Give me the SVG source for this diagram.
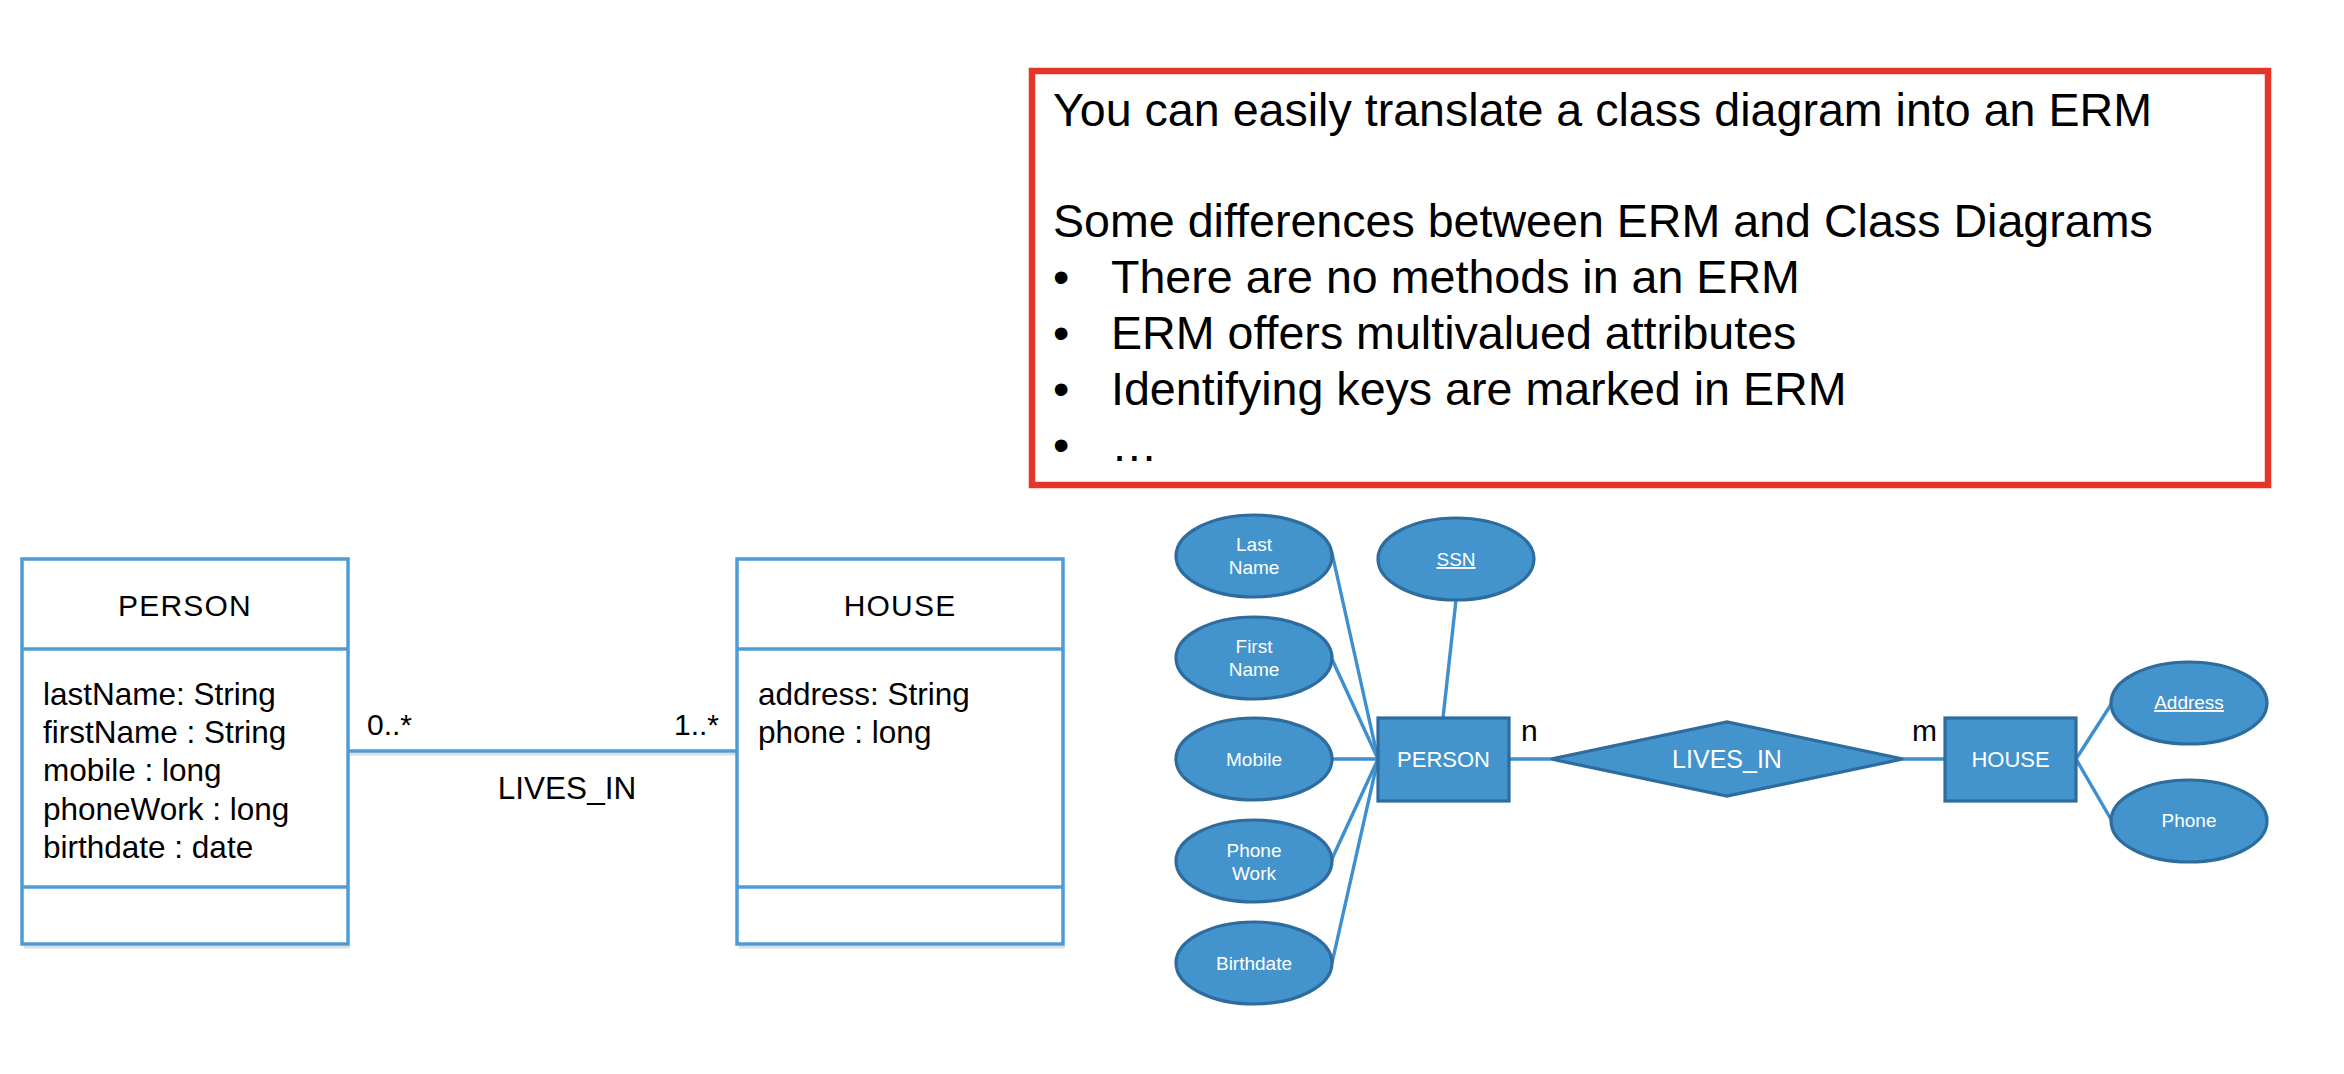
<svg xmlns="http://www.w3.org/2000/svg" width="2344" height="1074" viewBox="0 0 2344 1074">
<style>
text{font-family:"Liberation Sans",Arial,Helvetica,sans-serif;}
.cls{fill:#ffffff;stroke:#4e9bd6;stroke-width:3.5;}
.shadow{fill:none;stroke:#c9c9c9;stroke-width:3;opacity:0.6;}
.ct{font-size:31.5px;fill:#000;}
.ch{font-size:30px;fill:#000;letter-spacing:1.2px;text-anchor:middle;}
.assoc{stroke:#4e9bd6;stroke-width:3.5;fill:none;}
.note{fill:#ffffff;stroke:#e5352a;stroke-width:6.5;}
.nt{font-size:46.6px;fill:#000;}
.ent{fill:#4393cd;stroke:#2e6c9e;stroke-width:3.2;}
.et{fill:#ffffff;font-size:19px;text-anchor:middle;}
.eh{fill:#ffffff;font-size:22px;text-anchor:middle;}
.rl{fill:#ffffff;font-size:25px;text-anchor:middle;}
.link{stroke:#3d8fcf;stroke-width:3.4;fill:none;}
.card{font-size:30px;fill:#000;}
</style>

<g id="note">
<rect class="note" x="1032" y="71" width="1236" height="414"/>
<text class="nt" x="1053" y="126">You can easily translate a class diagram into an ERM</text>
<text class="nt" x="1053" y="237">Some differences between ERM and Class Diagrams</text>
<text class="nt" x="1053" y="293">•</text><text class="nt" x="1111" y="293">There are no methods in an ERM</text>
<text class="nt" x="1053" y="349">•</text><text class="nt" x="1111" y="349">ERM offers multivalued attributes</text>
<text class="nt" x="1053" y="405">•</text><text class="nt" x="1111" y="405">Identifying keys are marked in ERM</text>
<text class="nt" x="1053" y="461">•</text><text class="nt" x="1111" y="461">…</text>
</g>

<g id="class-connectors">
<line class="shadow" x1="350" y1="754" x2="737" y2="754"/>
<line class="assoc" x1="348" y1="751" x2="737" y2="751"/>
<text class="card" x="367" y="735">0..*</text>
<text class="card" x="719" y="735" text-anchor="end">1..*</text>
<text class="ct" x="567" y="799" text-anchor="middle">LIVES_IN</text>
</g>

<g id="class-person">
<path class="shadow" d="M24 947 H350 M24 652 H350 M24 890 H350"/>
<rect class="cls" x="22" y="559" width="326" height="385"/>
<line class="cls" x1="22" y1="649" x2="348" y2="649"/>
<line class="cls" x1="22" y1="887" x2="348" y2="887"/>
<text class="ch" x="185" y="616">PERSON</text>
<text class="ct" x="43" y="705">lastName: String</text>
<text class="ct" x="43" y="743">firstName : String</text>
<text class="ct" x="43" y="781">mobile : long</text>
<text class="ct" x="43" y="820">phoneWork : long</text>
<text class="ct" x="43" y="858">birthdate : date</text>
</g>

<g id="class-house">
<path class="shadow" d="M739 947 H1065 M739 652 H1065 M739 890 H1065"/>
<rect class="cls" x="737" y="559" width="326" height="385"/>
<line class="cls" x1="737" y1="649" x2="1063" y2="649"/>
<line class="cls" x1="737" y1="887" x2="1063" y2="887"/>
<text class="ch" x="900" y="616">HOUSE</text>
<text class="ct" x="758" y="705">address: String</text>
<text class="ct" x="758" y="743">phone : long</text>
</g>

<g id="erd-connectors">
<line class="link" x1="1332" y1="553" x2="1378" y2="759"/>
<line class="link" x1="1331" y1="657" x2="1378" y2="759"/>
<line class="link" x1="1332" y1="759" x2="1378" y2="759"/>
<line class="link" x1="1331" y1="861" x2="1378" y2="759"/>
<line class="link" x1="1332" y1="963" x2="1378" y2="759"/>
<line class="link" x1="1456" y1="600" x2="1443" y2="718"/>
<line class="link" x1="1509" y1="759" x2="1551" y2="759"/>
<line class="link" x1="1903" y1="759" x2="1945" y2="759"/>
<line class="link" x1="2076" y1="759" x2="2112" y2="703"/>
<line class="link" x1="2076" y1="759" x2="2112" y2="821"/>
<text class="card" x="1521" y="741">n</text>
<text class="card" x="1912" y="741">m</text>
</g>

<g id="attr-lastname">
<ellipse class="ent" cx="1254" cy="556" rx="78" ry="41"/>
<text class="et" x="1254" y="551">Last</text>
<text class="et" x="1254" y="574">Name</text>
</g>
<g id="attr-ssn">
<ellipse class="ent" cx="1456" cy="559" rx="78" ry="41"/>
<text class="et" x="1456" y="566" text-decoration="underline">SSN</text>
</g>
<g id="attr-firstname">
<ellipse class="ent" cx="1254" cy="658" rx="78" ry="41"/>
<text class="et" x="1254" y="653">First</text>
<text class="et" x="1254" y="676">Name</text>
</g>
<g id="attr-mobile">
<ellipse class="ent" cx="1254" cy="759" rx="78" ry="41"/>
<text class="et" x="1254" y="766">Mobile</text>
</g>
<g id="attr-phonework">
<ellipse class="ent" cx="1254" cy="861" rx="78" ry="41"/>
<text class="et" x="1254" y="857">Phone</text>
<text class="et" x="1254" y="880">Work</text>
</g>
<g id="attr-birthdate">
<ellipse class="ent" cx="1254" cy="963" rx="78" ry="41"/>
<text class="et" x="1254" y="970">Birthdate</text>
</g>

<g id="entity-person">
<rect class="ent" x="1378" y="718" width="131" height="83"/>
<text class="eh" x="1443.5" y="767">PERSON</text>
</g>
<g id="rel-lives-in">
<polygon class="ent" points="1551,759 1727,722 1903,759 1727,796"/>
<text class="rl" x="1727" y="768">LIVES_IN</text>
</g>
<g id="entity-house">
<rect class="ent" x="1945" y="718" width="131" height="83"/>
<text class="eh" x="2010.5" y="767">HOUSE</text>
</g>
<g id="attr-address">
<ellipse class="ent" cx="2189" cy="703" rx="78" ry="41"/>
<text class="et" x="2189" y="709" text-decoration="underline">Address</text>
</g>
<g id="attr-phone">
<ellipse class="ent" cx="2189" cy="821" rx="78" ry="41"/>
<text class="et" x="2189" y="827">Phone</text>
</g>
</svg>
